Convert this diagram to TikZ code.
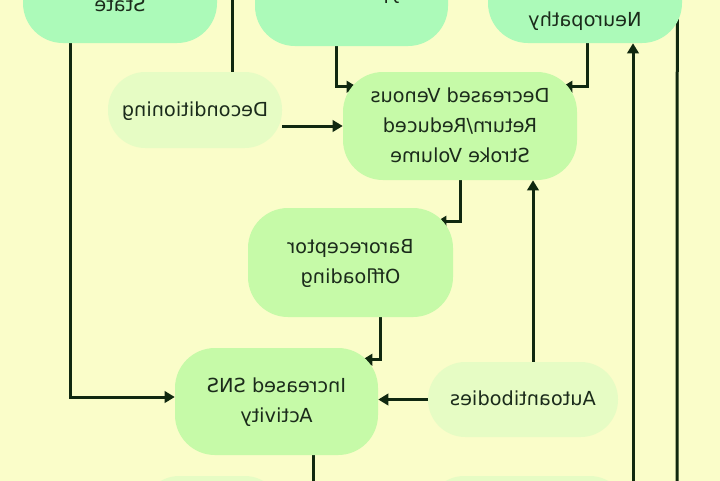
\documentclass[tikz,border=0pt]{standalone}
\usepackage{graphicx}
\usepackage{fontspec}
\setmainfont{DejaVu Sans}
\usetikzlibrary{arrows.meta,calc}
\pgfdeclarelayer{background}
\pgfsetlayers{background,main}
\definecolor{bgc}{HTML}{FAFDC9}
\definecolor{topc}{HTML}{ACFAB9}
\definecolor{midc}{HTML}{C6FAA8}
\definecolor{lightc}{HTML}{E6FCC4}
\definecolor{linec}{HTML}{102810}
\definecolor{txtc}{HTML}{1B2B1B}
\newcommand\mtxt[1]{\reflectbox{\begin{tabular}{@{}c@{}}#1\end{tabular}}}
\tikzset{
  basebox/.style={inner sep=0pt, text=txtc, font=\fontsize{14.5}{22.5}\selectfont},
  topbox/.style={basebox, fill=topc, rounded corners=30pt, minimum width=145.5pt, minimum height=79.5pt},
  midbox/.style={basebox, fill=midc, rounded corners=30pt},
  lightbox/.style={basebox, fill=lightc, rounded corners=28pt},
  ln/.style={draw=linec, line width=2.25pt},
  arr/.style={ln, -{Triangle[length=7.5pt,width=8.5pt]}},
}
\begin{document}
\begin{tikzpicture}[x=0.75pt,y=-0.75pt]
\useasboundingbox (0,0) rectangle (720,480);
\clip (0,0) rectangle (720,480);
% top row (partly outside the picture)
\node[topbox] (A) at (120,-10) {\mtxt{Hyperadrenergic\\State}};
\node[topbox, minimum width=144.75pt] (B) at (351.5,-7) {\mtxt{Hypovolemia}};
\node[topbox] (C) at (585,-10) {\mtxt{Small Fiber\\Autonomic\\Neuropathy}};
% middle
\node[lightbox, minimum width=130.5pt, minimum height=57pt] (Dec) at (195,110) {\mtxt{Deconditioning}};
\node[midbox, minimum width=175.5pt, minimum height=81pt] (DVR) at (460,126) {\mtxt{Decreased Venous\\Return/Reduced\\Stroke Volume}};
\node[midbox, minimum width=153.75pt, minimum height=81.75pt] (Baro) at (350.5,262.5) {\mtxt{Baroreceptor\\Offloading}};
\node[midbox, minimum width=152.25pt, minimum height=80.25pt] (SNS) at (276.5,401.5) {\mtxt{Increased SNS\\Activity}};
\node[lightbox, minimum width=142.5pt, minimum height=56.25pt] (Auto) at (523,399.5) {\mtxt{Autoantibodies}};
% bottom row (only their tops show)
\node[lightbox, minimum width=105pt, minimum height=57pt] (BL) at (212,514) {};
\node[lightbox, minimum width=150pt, minimum height=57pt] (BR) at (527,514) {};
\coordinate (e1) at (633,560);
\coordinate (e2) at (677,560);
\begin{pgfonlayer}{background}
\clip (0,0) rectangle (720,480);
\fill[bgc] (-10,-10) rectangle (730,490);
\draw[arr] ($(A.south)+(-50,0)$) |- ($(SNS.west)+(0,-4.5)$);
\draw[arr] ($(Dec.north)+(37,0)$) -- ++(0,-95);
\draw[arr] ($(B.south)+(-15.5,0)$) |- ($(DVR.north west)+(14,15)$);
\draw[arr] ($(C.south)+(2,0)$) |- ($(DVR.north east)+(-15,15)$);
\draw[arr] (Dec.east |- DVR.west) -- (DVR.west);
\draw[arr] (DVR.south) |- ($(Baro.north east)+(-17,14)$);
\draw[arr] ($(Baro.south)+(29.5,0)$) |- ($(SNS.north east)+(-16,12)$);
\draw[arr] (Auto.west) -- (SNS.east |- Auto.west);
\draw[arr] ($(Auto.north)+(10,0)$) -- ($(DVR.south)+(73,0)$);
\draw[ln] ($(SNS.south)+(36.5,0)$) -- ++(0,80);
\draw[arr] (e1) -- (e1 |- C.south);
\draw[ln] (e2) -- ($(C.south east)+(-5,-30)$);
\end{pgfonlayer}
\end{tikzpicture}
\end{document}
